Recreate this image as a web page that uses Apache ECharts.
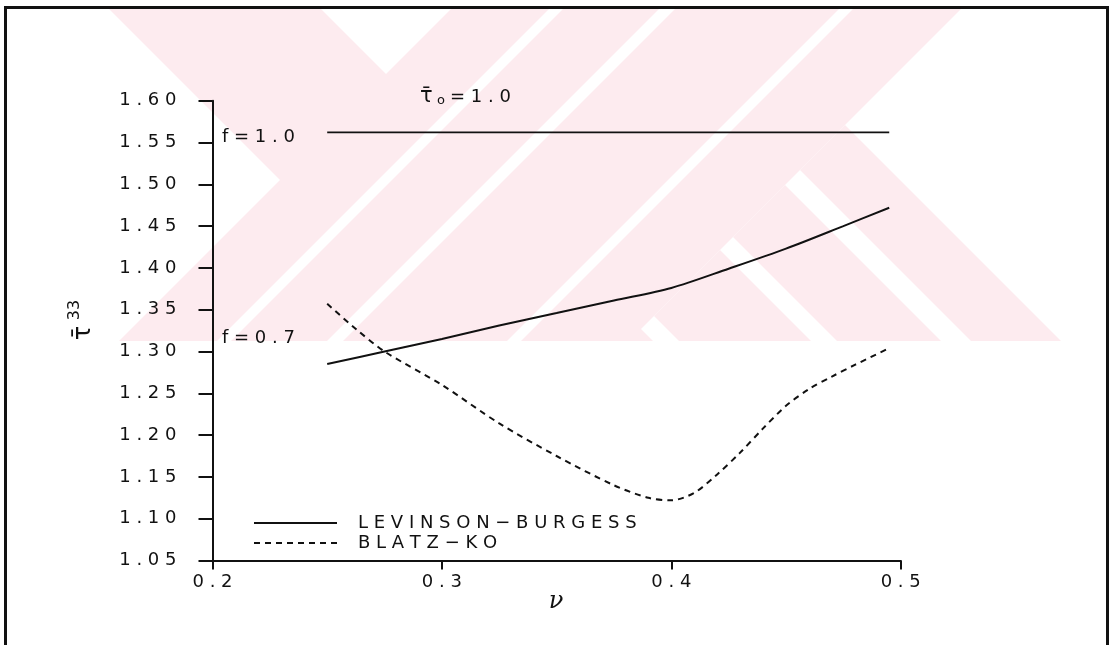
<!DOCTYPE html>
<html>
<head>
<meta charset="utf-8">
<script src="https://cdn.jsdelivr.net/npm/echarts@6/dist/echarts.min.js"></script>
<style>
  html, body { margin: 0; padding: 0; background: #ffffff; }
  #chart { width: 1112px; height: 645px; }
</style>
</head>
<body>
<div id="chart"></div>
<script>
// Poisson's ratio ticks and normalised stress ticks
const nuTicks = [0.2, 0.3, 0.4, 0.5];
const tauTicks = [1.05, 1.10, 1.15, 1.20, 1.25, 1.30, 1.35, 1.40, 1.45, 1.50, 1.55, 1.60];

// f = 1.0 : both models coincide
const nuF10 = [0.25, 0.495];
const tauF10 = [1.562, 1.562];

// f = 0.7 : Levinson-Burgess
const nuLB = [0.25, 0.275, 0.30, 0.325, 0.35, 0.375, 0.40, 0.425, 0.45, 0.475, 0.495];
const tauLB = [1.285, 1.300, 1.315, 1.331, 1.346, 1.361, 1.376, 1.399, 1.423, 1.450, 1.472];

// f = 0.7 : Blatz-Ko
const nuBK = [0.25, 0.2625, 0.275, 0.30, 0.325, 0.35, 0.375, 0.39, 0.40, 0.41, 0.42, 0.43, 0.44, 0.45, 0.46, 0.47, 0.48, 0.495];
const tauBK = [1.357, 1.327, 1.300, 1.260, 1.214, 1.175, 1.140, 1.125, 1.122, 1.131, 1.153, 1.179, 1.208, 1.235, 1.255, 1.270, 1.284, 1.304];

const seriesNames = ['LEVINSON−BURGESS', 'BLATZ−KO'];

const pairs = (xs, ys) => xs.map((x, i) => [x, ys[i]]);
// wide plotter-style lettering: a space between every glyph
const spaced = s => String(s).split('').join(' ');

const INK = '#111111';
const FONT = 'DejaVu Sans';
const PINK = '#fdebef';

// ---- pale diagonal-stripe emblem printed behind the figure ----
// 'u' bands follow x+y = const ('/'), 'v' bands follow x-y = const ('\');
// an optional minimum on x+y keeps a band to the lower right
const emblemPink = [
  ['u', 460, 970],
  ['v', 100, 312],
  ['v', 338, 470, 970], ['v', 496, 600, 970], ['v', 630, 720, 970]
];
// white '/' cuts running through the pink bands
const emblemCuts = [['u', 558, 572], ['u', 668, 684], ['u', 848, 862]];
const emblemClip = { x0: 7, x1: 1106, y0: 9, y1: 341 };

// clip a convex polygon against the half-plane a*x + b*y <= c
function clipHalf(poly, a, b, c) {
  const out = [];
  for (let i = 0; i < poly.length; i++) {
    const p = poly[i], q = poly[(i + 1) % poly.length];
    const fp = a * p[0] + b * p[1] - c, fq = a * q[0] + b * q[1] - c;
    if (fp <= 0) out.push(p);
    if ((fp < 0 && fq > 0) || (fp > 0 && fq < 0)) {
      const t = fp / (fp - fq);
      out.push([p[0] + t * (q[0] - p[0]), p[1] + t * (q[1] - p[1])]);
    }
  }
  return out;
}
function bandPolygon(kind, lo, hi, uMin) {
  const r = emblemClip;
  let poly = [[r.x0, r.y0], [r.x1, r.y0], [r.x1, r.y1], [r.x0, r.y1]];
  if (kind === 'u') {
    poly = clipHalf(poly, 1, 1, hi);
    poly = clipHalf(poly, -1, -1, -lo);
  } else {
    poly = clipHalf(poly, 1, -1, hi);
    poly = clipHalf(poly, -1, 1, -lo);
  }
  if (uMin !== undefined) poly = clipHalf(poly, -1, -1, -uMin);
  return poly;
}
const emblem = emblemPink.map(([k, lo, hi, uMin]) => ({
  type: 'polygon', silent: true, z: -10,
  shape: { points: bandPolygon(k, lo, hi, uMin) },
  style: { fill: PINK, stroke: null }
})).concat(emblemCuts.map(([k, lo, hi]) => ({
  type: 'polygon', silent: true, z: -9,
  shape: { points: bandPolygon(k, lo, hi) },
  style: { fill: '#ffffff', stroke: null }
})));

const chart = echarts.init(document.getElementById('chart'), null, { renderer: 'canvas' });

chart.setOption({
  backgroundColor: '#ffffff',
  animation: false,
  grid: { left: 212.5, right: 211.3, top: 100.7, bottom: 84.5, containLabel: false },
  xAxis: {
    type: 'value',
    min: nuTicks[0],
    max: nuTicks[nuTicks.length - 1],
    interval: 0.1,
    axisLine: { show: true, onZero: false, lineStyle: { color: INK, width: 2 } },
    axisTick: { show: true, inside: false, length: 9, lineStyle: { color: INK, width: 2 } },
    axisLabel: {
      margin: 13, color: INK, fontFamily: FONT, fontSize: 18,
      formatter: v => spaced(v.toFixed(1))
    },
    splitLine: { show: false },
    z: 5
  },
  yAxis: {
    type: 'value',
    min: tauTicks[0],
    max: tauTicks[tauTicks.length - 1],
    interval: 0.05,
    axisLine: { show: true, onZero: false, lineStyle: { color: INK, width: 2 } },
    axisTick: { show: true, inside: false, length: 14, lineStyle: { color: INK, width: 2 } },
    axisLabel: {
      margin: 36, color: INK, fontFamily: FONT, fontSize: 18,
      formatter: v => spaced(v.toFixed(2))
    },
    splitLine: { show: false },
    z: 5
  },
  legend: {
    data: seriesNames,
    orient: 'vertical',
    left: 248,
    top: 508,
    itemWidth: 83,
    itemHeight: 20,
    itemGap: 0,
    itemStyle: { opacity: 0 },
    textStyle: {
      color: INK, fontFamily: FONT, fontSize: 18, lineHeight: 20,
      padding: [0, 0, 0, 16]
    },
    formatter: name => spaced(name),
    selectedMode: false
  },
  series: [
    {
      name: 'f=1.0',
      type: 'line',
      data: pairs(nuF10, tauF10),
      symbol: 'none',
      lineStyle: { color: INK, width: 1.8, type: 'solid' },
      itemStyle: { color: INK },
      z: 3
    },
    {
      name: seriesNames[0],
      type: 'line',
      data: pairs(nuLB, tauLB),
      smooth: 0.3,
      symbol: 'none',
      lineStyle: { color: INK, width: 2, type: 'solid' },
      itemStyle: { color: INK },
      z: 3
    },
    {
      name: seriesNames[1],
      type: 'line',
      data: pairs(nuBK, tauBK),
      smooth: 0.3,
      symbol: 'none',
      lineStyle: { color: INK, width: 2, type: [6, 5] },
      itemStyle: { color: INK },
      z: 3
    }
  ],
  graphic: emblem.concat([
    // frame around the figure (open at the bottom)
    {
      type: 'polyline', silent: true,
      shape: { points: [[5.5, 645], [5.5, 7.5], [1107.5, 7.5], [1107.5, 645]] },
      style: { stroke: INK, lineWidth: 3, fill: null }
    },
    // curve family labels
    {
      type: 'text', x: 222, y: 137, silent: true,
      style: { text: 'f = 1 . 0', fill: INK, fontFamily: FONT, fontSize: 18, align: 'left', verticalAlign: 'middle' }
    },
    {
      type: 'text', x: 222, y: 338, silent: true,
      style: { text: 'f = 0 . 7', fill: INK, fontFamily: FONT, fontSize: 18, align: 'left', verticalAlign: 'middle' }
    },
    // initial stress annotation
    {
      type: 'text', x: 420, y: 97, silent: true,
      style: { text: 'τ\u0304', fill: INK, fontFamily: FONT, fontSize: 21, align: 'left', verticalAlign: 'middle' }
    },
    {
      type: 'text', x: 437, y: 101, silent: true,
      style: { text: 'o', fill: INK, fontFamily: FONT, fontSize: 13, align: 'left', verticalAlign: 'middle' }
    },
    {
      type: 'text', x: 450, y: 97, silent: true,
      style: { text: '= 1 . 0', fill: INK, fontFamily: FONT, fontSize: 18, align: 'left', verticalAlign: 'middle' }
    },
    // y-axis title, reading upwards
    {
      type: 'text', x: 84, y: 333, rotation: Math.PI / 2, silent: true,
      style: { text: 'τ\u0304', fill: INK, fontFamily: FONT, fontSize: 24, align: 'center', verticalAlign: 'middle' }
    },
    {
      type: 'text', x: 75, y: 310, rotation: Math.PI / 2, silent: true,
      style: { text: '33', fill: INK, fontFamily: FONT, fontSize: 16, align: 'center', verticalAlign: 'middle' }
    },
    // x-axis title
    {
      type: 'text', x: 556, y: 602, silent: true,
      style: { text: 'ν', fill: INK, fontFamily: 'DejaVu Serif', fontStyle: 'italic', fontSize: 24, align: 'center', verticalAlign: 'middle' }
    }
  ])
});
</script>
</body>
</html>
